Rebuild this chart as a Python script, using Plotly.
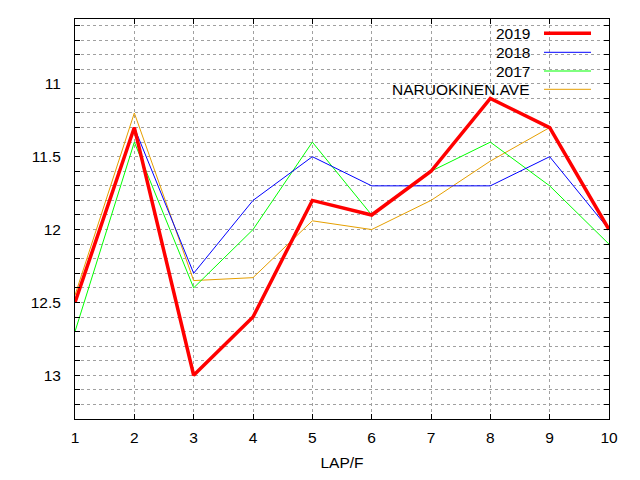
import plotly.graph_objects as go

laps = [1, 2, 3, 4, 5, 6, 7, 8, 9, 10]
y2019 = [12.5, 11.3, 13.0, 12.6, 11.8, 11.9, 11.6, 11.1, 11.3, 12.0]
y2018 = [12.5, 11.3, 12.3, 11.8, 11.5, 11.7, 11.7, 11.7, 11.5, 12.0]
y2017 = [12.7, 11.4, 12.4, 12.0, 11.4, 11.9, 11.6, 11.4, 11.7, 12.1]
yave = [12.45, 11.2, 12.35, 12.33, 11.94, 12.0, 11.8, 11.53, 11.3, 12.0]

series = [
    ("2019", y2019, "#ff0000", 3.5),
    ("2018", y2018, "#0000ff", 1),
    ("2017", y2017, "#00ff00", 1),
    ("NARUOKINEN.AVE", yave, "#e69f00", 1),
]

FONT = "Liberation Sans, Arial, sans-serif"
FS = 15.5
L, R, T, B = 75, 31, 19, 61
W, H = 640, 480
pw, ph = W - L - R, H - T - B

def px(x):
    return (x - L) / pw

def py(y):
    return 1 - (y - T) / ph

fig = go.Figure()
# draw thin series first, thick red on top
for name, ys, color, width in [series[3], series[2], series[1], series[0]]:
    fig.add_trace(go.Scatter(x=laps, y=ys, mode="lines", name=name,
                             line=dict(color=color, width=width),
                             showlegend=False, hoverinfo="skip"))

shapes = [dict(type="rect", xref="paper", yref="paper",
               x0=px(391), x1=px(598), y0=py(97), y1=1,
               fillcolor="white", line=dict(width=0), layer="between")]
annotations = []
ys_leg = [33.3, 52.3, 71.0, 89.3]
for (name, ys, color, width), yy in zip(series, ys_leg):
    annotations.append(dict(xref="paper", yref="paper", x=px(532), y=py(yy),
                            text=name, showarrow=False, xanchor="right",
                            yanchor="middle",
                            font=dict(family=FONT, size=FS, color="black")))
    shapes.append(dict(type="line", xref="paper", yref="paper",
                       x0=px(544), x1=px(591), y0=py(yy), y1=py(yy),
                       line=dict(color=color, width=width), layer="above"))

grid = dict(gridcolor="#a0a0a0", griddash="3px,3px", gridwidth=1)
fig.update_layout(
    width=W, height=H,
    margin=dict(l=L, r=R, t=T, b=B),
    paper_bgcolor="white", plot_bgcolor="white",
    font=dict(family=FONT, size=FS, color="black"),
    shapes=shapes, annotations=annotations,
    showlegend=False,
    xaxis=dict(range=[1, 10], dtick=1, tick0=1, showgrid=True, **grid,
               zeroline=False, showline=True, linecolor="black", linewidth=1,
               mirror="ticks", ticks="inside", ticklen=5, tickcolor="black",
               ticklabelstandoff=4, automargin=False,
               title=dict(text="LAP/F", standoff=12, font=dict(size=FS))),
    yaxis=dict(range=[13.3, 10.555], tickvals=[11, 11.5, 12, 12.5, 13],
               ticktext=["11", "11.5", "12", "12.5", "13"],
               showgrid=True, **grid, automargin=False,
               minor=dict(dtick=0.1, tick0=10, showgrid=True, ticks="inside",
                          ticklen=5, tickcolor="black", gridcolor="#a0a0a0",
                          griddash="3px,3px"),
               zeroline=False, showline=True, linecolor="black", linewidth=1,
               mirror="ticks", ticks="inside", ticklen=5, tickcolor="black",
               ticklabelstandoff=10),
)

fig.write_html("out.html", config={"displayModeBar": False},
               post_script="document.body.style.margin='0';"
                           "document.body.style.padding='0';")
